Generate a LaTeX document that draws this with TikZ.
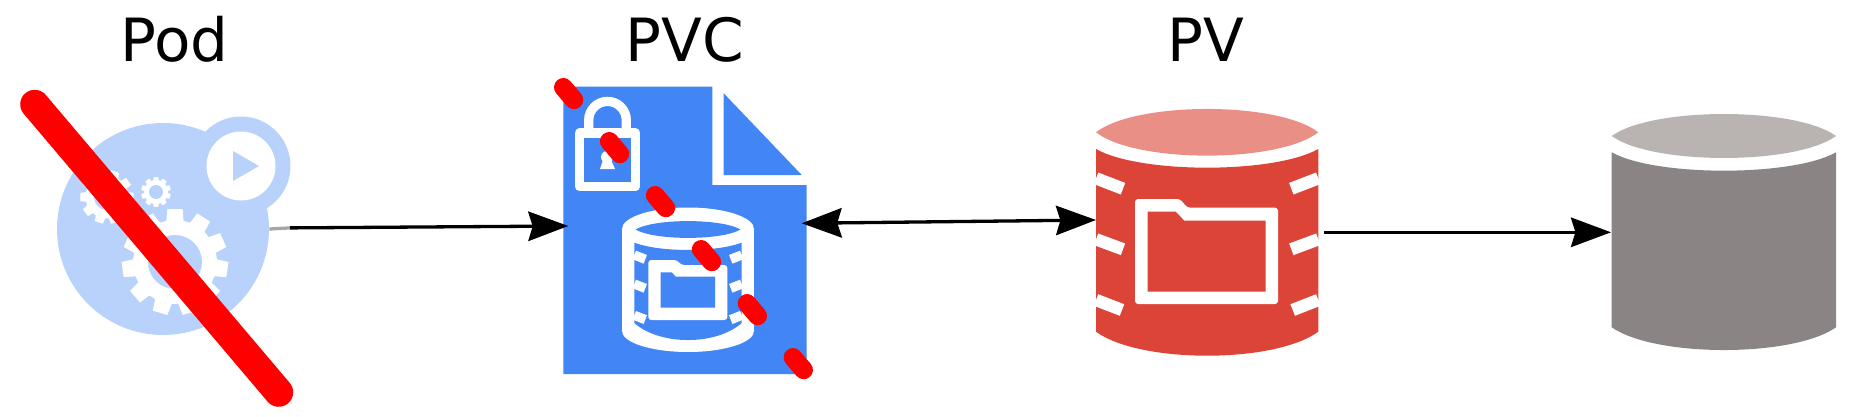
\documentclass[tikz,border=0pt]{standalone}
\usepackage{fontspec}
\setmainfont{DejaVu Sans}
\usetikzlibrary{arrows.meta}
\definecolor{podblue}{HTML}{B8D2FB}
\definecolor{docblue}{HTML}{4285F4}
\definecolor{pvred}{HTML}{DB4437}
\definecolor{pvlight}{HTML}{E98F86}
\definecolor{diskdark}{HTML}{8A8584}
\definecolor{disklight}{HTML}{B9B3B2}
\tikzset{
  title/.style={font=\fontsize{29.8pt}{32pt}\selectfont,anchor=base,inner sep=0pt},
  tip/.style={-{Stealth[length=20pt,width=14.7pt,inset=2.2pt]}},
  twotips/.style={{Stealth[length=20pt,width=14.7pt,inset=2.2pt]}-{Stealth[length=20pt,width=14.7pt,inset=2.2pt]}},
  link/.style={line width=1.65pt,black},
  thintick/.style={white,line width=4.65pt},
  widetick/.style={white,line width=6.2pt},
  podcircle/.style={circle,fill=podblue,inner sep=0pt,minimum size=106pt},
}
\newcommand{\gearshape}[6]{% x y router rroot teeth rot
  \begin{scope}[shift={(#1,#2)}]
    \pgfmathsetmacro{\stepang}{360/#5}
    \pgfmathtruncatemacro{\lastt}{#5-1}
    \fill[white] (#6-0.36*\stepang:#4)
      \foreach \k in {0,...,\lastt}{
        -- ({#6+\k*\stepang-0.36*\stepang}:#4)
        -- ({#6+\k*\stepang-0.25*\stepang}:#3)
        -- ({#6+\k*\stepang+0.25*\stepang}:#3)
        -- ({#6+\k*\stepang+0.36*\stepang}:#4)
      } -- cycle;
  \end{scope}
}
\begin{document}
\begin{tikzpicture}[x=0.5pt,y=-0.5pt]
\useasboundingbox (0,0) rectangle (1856,417);
\fill[white] (0,0) rectangle (1856,417);

% titles
\node[title] (podtitle) at (174.5,62) {Pod};
\node[title] (pvctitle) at (685,62) {PVC};
\node[title] (pvtitle) at (1206,62) {PV};

% Pod
\node[podcircle] (pod) at (163,229) {};
\fill[podblue] (241,166) circle [radius=49.5];
\fill[white] (241,166) circle [radius=34.5];
\fill[podblue] (233,151) -- (259,166) -- (233,181) -- cycle;
\gearshape{175}{262}{53.5}{42}{11}{-90}
\fill[podblue] (175,262) circle [radius=27];
\gearshape{156}{192}{15}{12}{10}{-90}
\fill[podblue] (156,192) circle [radius=7];
\gearshape{107}{197}{27}{21.5}{10}{-72}
\fill[podblue] (107,197) circle [radius=13];

% PVC document
\fill[docblue] (563.3,86.7) -- (712.3,86.7) -- (712.3,185) -- (806.7,185) -- (806.7,374) -- (563.3,374) -- cycle;
\fill[docblue] (723.7,93.3) -- (801.7,175) -- (723.7,175) -- cycle;
% lock
\draw[white,line width=4.65pt] (588.7,130) -- (588.7,120.2) arc [start angle=180,end angle=0,x radius=18.8,y radius=-18.8] -- (626.3,130);
\draw[white,line width=4.65pt,line join=round] (579.3,133) rectangle (635.6,186.3);
\fill[white] (607,157) circle [radius=6];
\fill[white] (603,160) -- (611,160) -- (615,169) -- (600,169) -- cycle;
% small cylinder
\fill[white] (688,229) ellipse [x radius=66,y radius=21.5];
\fill[white] (688,331) ellipse [x radius=66,y radius=21];
\fill[white] (622,229) rectangle (754,331);
\fill[docblue] (635.5,229.5) .. controls (655,218.3) and (721,218.3) .. (740.5,229.5)
  .. controls (721,240.7) and (655,240.7) .. (635.5,229.5) -- cycle;
\fill[docblue] (634.3,242.7) .. controls (660,252.4) and (716,252.4) .. (741.7,242.7)
  -- (741.7,323) .. controls (716,345.7) and (660,345.7) .. (634.3,323) -- cycle;
\foreach \yy in {255,284,315.3}{
  \draw[thintick] (634.3,\yy) -- ++(11,4.3);
  \draw[thintick] (741.7,\yy) -- ++(-11,4.3);
}
\fill[white,rounded corners=1.5pt] (648.3,260) -- (677,260) -- (681,265) -- (727.3,265) -- (727.3,320) -- (648.3,320) -- cycle;
\fill[docblue] (660.7,272.3) -- (671.7,272.3) -- (675.7,276.7) -- (715,276.7) -- (715,307.7) -- (660.7,307.7) -- cycle;

% PV cylinder
\fill[pvlight] (1096,132.3) .. controls (1136,101.2) and (1278,101.2) .. (1318.3,132.3)
  .. controls (1278,163.4) and (1136,163.4) .. (1096,132.3) -- cycle;
\fill[pvred] (1096,149) .. controls (1140,173.9) and (1274,173.9) .. (1318.3,149)
  -- (1318.3,331.7) .. controls (1274,363.7) and (1140,363.7) .. (1096,331.7) -- cycle;
\draw[widetick] (1096,178.3) -- (1123,188.7);
\draw[widetick] (1096,239.3) -- (1123,249.3);
\draw[widetick] (1096,300) -- (1122,310);
\draw[widetick] (1318.3,178.3) -- (1291.3,188.7);
\draw[widetick] (1318.3,239.3) -- (1291.3,249.3);
\draw[widetick] (1318.3,300) -- (1292.7,310);
\fill[white,rounded corners=1.5pt] (1135,199) -- (1180,199) -- (1187.3,207.7) -- (1278,207.7) -- (1278,304) -- (1135,304) -- cycle;
\fill[pvred] (1147.7,211.7) -- (1175.7,211.7) -- (1184.3,220.7) -- (1265.7,220.7) -- (1265.7,291.7) -- (1147.7,291.7) -- cycle;

% grey disk
\fill[disklight] (1611.7,136) .. controls (1652,106.7) and (1796,106.7) .. (1836,136)
  .. controls (1796,165.3) and (1652,165.3) .. (1611.7,136) -- cycle;
\fill[diskdark] (1611.7,152.3) .. controls (1655,176.8) and (1793,176.8) .. (1836,152.3)
  -- (1836,327.3) .. controls (1793,357.6) and (1655,357.6) .. (1611.7,327.3) -- cycle;

% connector anchors
\coordinate (podout) at (pod.east);
\coordinate (podfade) at (290,227.9);
\coordinate (pvcin) at (568.3,226);
\coordinate (pvcout) at (801.7,223.3);
\coordinate (pvin) at (1096,220);
\coordinate (pvout) at (1324.3,232.3);
\coordinate (diskin) at (1611,232.3);

\draw[link,gray!70,line cap=butt] (podout) -- (podfade);
\draw[link,tip] (podfade) -- (pvcin);
\draw[link,twotips] (pvcout) -- (pvin);
\draw[link,tip] (pvout) -- (diskin);

% red strikes
\coordinate (strikeA) at (34.7,104.3);
\coordinate (strikeB) at (278.7,392.3);
\coordinate (dashA) at (563.3,87.3);
\coordinate (dashB) at (803.7,370);
\draw[red,line width=14.5pt,line cap=round] (strikeA) -- (strikeB);
\draw[red,line width=9.3pt,line cap=round,dash pattern=on 8.25pt off 27.2pt] (dashA) -- (dashB);
\end{tikzpicture}
\end{document}
